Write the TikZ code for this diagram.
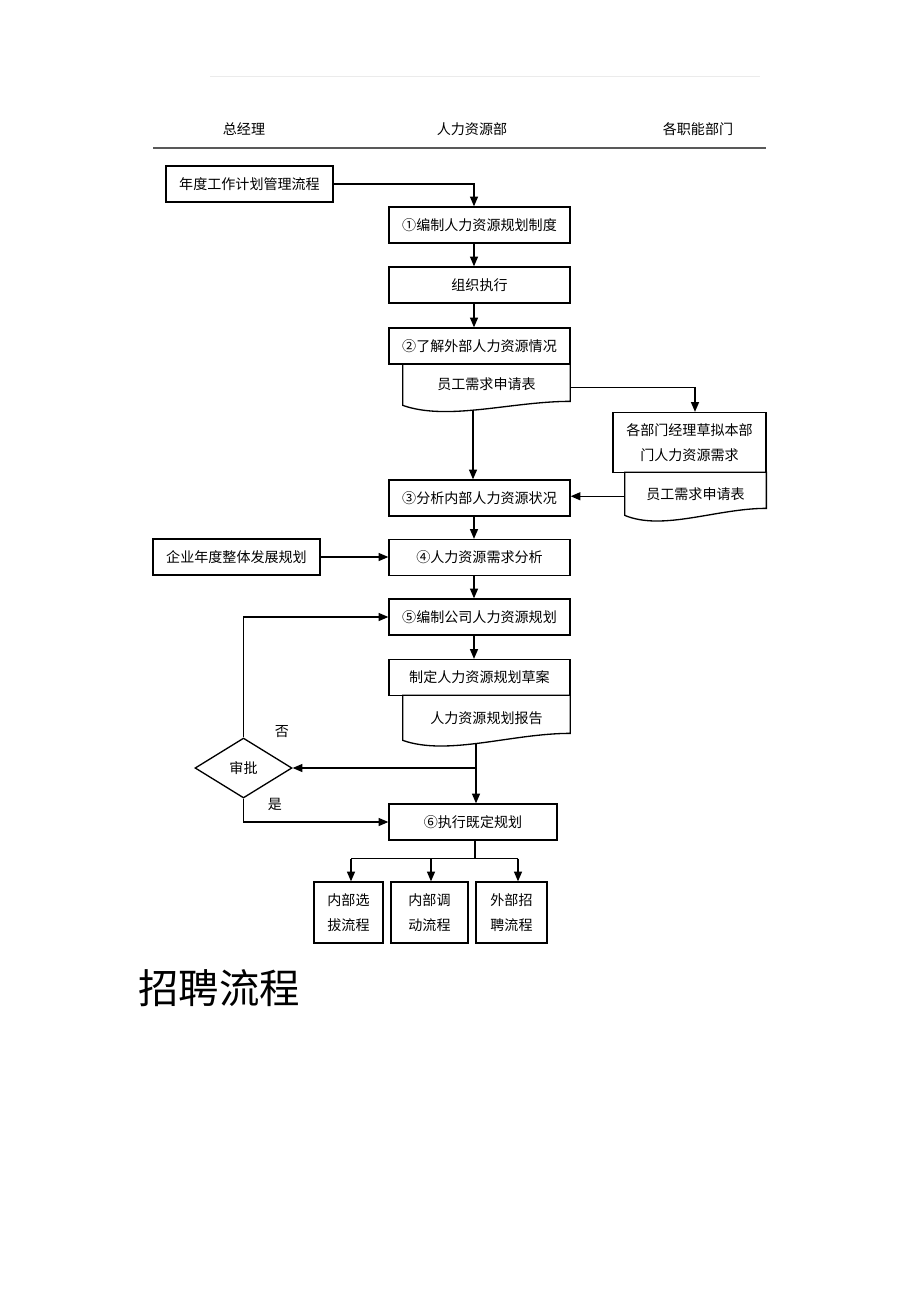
\documentclass[tikz,border=0pt]{standalone}
\usepackage{fontspec}
\setmainfont{Noto Sans CJK SC}
\usetikzlibrary{shapes.geometric,arrows.meta,positioning,calc}

\newcommand{\bodyfont}{\fontsize{8pt}{14pt}\selectfont}
\newcommand{\docwave}[2]{%
  \draw[line width=0.75pt] (#1.north west) -- (#1.south west)
    .. controls ($(#1.south west)!0.27!(#1.south east)+(0,16)$)
    and ($(#1.south west)!0.65!(#1.south east)+(0,-#2)$)
    .. ($(#1.south east)+(0,-#2)$) -- (#1.north east) -- cycle;}

\tikzset{
  flowbox/.style={draw, line width=0.75pt, minimum width=3.62cm, minimum height=0.72cm,
    inner sep=0pt, font=\bodyfont, align=center},
  docnode/.style={minimum width=3.34cm, minimum height=0.82cm, inner sep=0pt,
    font=\bodyfont, align=center},
  lane/.style={font=\bodyfont},
  arr/.style={-{Triangle[length=5.5pt,width=4.5pt]}, line width=0.75pt},
  line/.style={line width=0.75pt}
}

\begin{document}
\begin{tikzpicture}[x=0.02cm, y=-0.02cm]
    \useasboundingbox (0,0) rectangle (920,1302);

    % Header
    \draw[black!8, line width=0.4pt] (210,76) -- (760,76);
    \node[lane] (mgr) at (244,129) {总经理};
    \node[lane] (hr) at (472,129) {人力资源部};
    \node[lane] (dep) at (698,129) {各职能部门};
    \draw[black!65, line width=1.1pt] (153,148) -- (766,148);

    \coordinate (spine) at (474,0);

    % Planning steps
    \node[flowbox, minimum width=3.34cm] (plan) at (249.5,184) {年度工作计划管理流程};
    \node[flowbox] (rule) at (479.5,225) {①编制人力资源规划制度};
    \node[flowbox] (exec) at (479.5,285) {组织执行};
    \node[flowbox] (outer) at (479.5,346) {②了解外部人力资源情况};
    \node[docnode] (form) at (486.5,384.5) {员工需求申请表};
    \docwave{form}{4}

    % Department side
    \node[flowbox, minimum width=3.06cm, minimum height=1.2cm] (dept) at (689.5,442.5)
        {各部门经理草拟本部\\门人力资源需求};
    \node[docnode, minimum width=2.82cm, minimum height=0.85cm] (deptform) at (695.5,493.75) {员工需求申请表};
    \docwave{deptform}{7}

    % Analysis
    \node[flowbox] (inner) at (479.5,498) {③分析内部人力资源状况};
    \node[flowbox] (demand) at (479.5,557.5) {④人力资源需求分析};
    \node[flowbox, minimum width=3.34cm] (goal) at (236.5,557) {企业年度整体发展规划};
    \node[flowbox] (compile) at (479.5,617) {⑤编制公司人力资源规划};
    \node[flowbox] (draft) at (479.5,677.5) {制定人力资源规划草案};
    \node[docnode, minimum height=0.89cm] (report) at (486.5,717.75) {人力资源规划报告};
    \docwave{report}{7}

    % Approval
    \node[draw, diamond, line width=0.75pt, minimum width=1.94cm, minimum height=1.2cm,
        inner sep=0pt, font=\bodyfont] (approve) at (243.5,768) {审批};
    \node[lane] (no) at (282,732) {否};
    \node[lane] (yes) at (275,804) {是};
    \node[flowbox, minimum width=3.36cm] (apply) at (473,822) {⑥执行既定规划};

    % Follow-up flows
    \node[flowbox, minimum width=1.38cm, minimum height=1.22cm] (sel) at (348.5,912.5) {内部选\\拔流程};
    \node[flowbox, minimum width=1.54cm, minimum height=1.22cm] (move) at (429.5,912.5) {内部调\\动流程};
    \node[flowbox, minimum width=1.42cm, minimum height=1.22cm] (hire) at (511.5,912.5) {外部招\\聘流程};

    % Title
    \node[anchor=west, font=\fontsize{23pt}{26pt}\selectfont, inner sep=0pt] (title) at (138,988) {招聘流程};

    % Connectors
    \draw[arr] (plan.east) -| (spine |- rule.north);
    \draw[arr] (rule.south -| spine) -- (exec.north -| spine);
    \draw[arr] (exec.south -| spine) -- (outer.north -| spine);
    \coordinate (formb) at (473,410);
    \draw[arr] (formb) -- (inner.north -| formb);
    \draw[arr] ([yshift=-0.06cm]form.east) -| ([xshift=0.11cm]dept.north);
    \draw[arr] ([yshift=-0.05cm]deptform.west) -- ([yshift=-0.05cm]deptform.west -| inner.east);
    \draw[arr] (inner.south -| spine) -- (demand.north -| spine);
    \draw[arr] (goal.east) -- (goal.east -| demand.west);
    \draw[arr] (demand.south -| spine) -- (compile.north -| spine);
    \draw[arr] (compile.south -| spine) -- (draft.north -| spine);
    \coordinate (reportb) at (476,743);
    \coordinate (join) at (476,768);
    \draw[arr] (reportb) -- (reportb |- apply.north);
    \draw[arr] (join) -- (approve.east);
    \draw[arr] (approve.north) |- (compile.west);
    \draw[arr] (approve.south) |- (apply.west);
    \draw[line] ([xshift=0.04cm]apply.south) -- ++(0,18) coordinate (fork);
    \draw[line] ([xshift=0.05cm]fork -| sel.north) -- ([xshift=0.13cm]fork -| hire.north);
    \foreach \b/\dx in {sel/0.05cm,move/0.03cm,hire/0.13cm} {
        \draw[arr] ([xshift=\dx]fork -| \b.north) -- ([xshift=\dx]\b.north);
    }
\end{tikzpicture}
\end{document}
